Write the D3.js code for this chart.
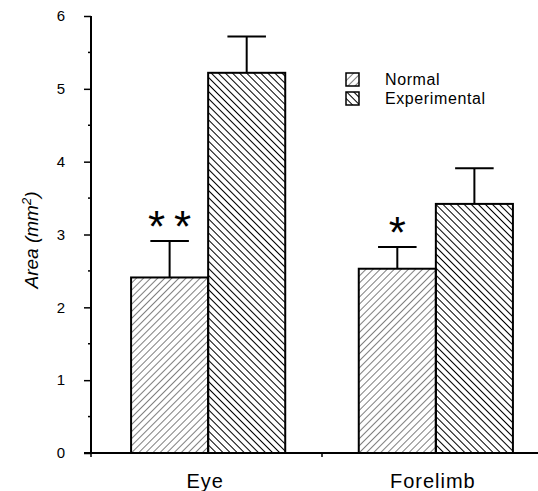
<!DOCTYPE html>
<meta charset="utf-8">
<style>
body { margin: 0; background: #fff; }
text { font-family: "Liberation Sans", Arial, sans-serif; fill: #000; }
</style>
<svg width="538" height="491"></svg>
<script src="https://cdn.jsdelivr.net/npm/d3@7"></script>
<script>

var groups = ["Eye", "Forelimb"];
var series = ["Normal", "Experimental"];
var normalMean = [2.41, 2.53];
var normalErr = [0.50, 0.30];
var experimentalMean = [5.22, 3.42];
var experimentalErr = [0.50, 0.49];
var stars = ["**", "*"];
var yTicks = [0, 1, 2, 3, 4, 5, 6];

var svg = d3.select("svg");

var x = d3.scaleBand().domain(groups).range([91, 553]).paddingInner(0.323).paddingOuter(0.176);
var xs = d3.scaleBand().domain(series).range([0, x.bandwidth()]);
var y = d3.scaleLinear().domain([0, 6]).range([453, 16]);

// hatch patterns
var defs = svg.append("defs");
defs.append("pattern")
    .attr("id", "hatchN")
    .attr("patternUnits", "userSpaceOnUse")
    .attr("width", 5).attr("height", 5)
    .attr("patternTransform", "rotate(45)")
  .append("line")
    .attr("x1", 0).attr("y1", 0).attr("x2", 0).attr("y2", 5)
    .attr("stroke", "#000").attr("stroke-width", 1);
defs.append("pattern")
    .attr("id", "hatchE")
    .attr("patternUnits", "userSpaceOnUse")
    .attr("width", 5).attr("height", 5)
    .attr("patternTransform", "rotate(-45)")
  .append("line")
    .attr("x1", 0).attr("y1", 0).attr("x2", 0).attr("y2", 5)
    .attr("stroke", "#000").attr("stroke-width", 2);

var fills = {Normal: "url(#hatchN)", Experimental: "url(#hatchE)"};

var data = [];
groups.forEach(function(g, i) {
  data.push({group: g, s: "Normal", v: normalMean[i], e: normalErr[i]});
  data.push({group: g, s: "Experimental", v: experimentalMean[i], e: experimentalErr[i]});
});

// y axis
var yAxis = d3.axisLeft(y).tickValues(yTicks).tickFormat(d3.format("d")).tickSize(7).tickPadding(19);
var yg = svg.append("g").attr("transform", "translate(91,0)").call(yAxis);
yg.select(".domain").attr("stroke-width", 2).attr("d", "M0," + y(6) + "V" + y(0));
yg.selectAll(".tick line").attr("stroke-width", 1.5);
yg.selectAll(".tick text").style("font-size", "15px").attr("font-family", "Liberation Sans, Arial, sans-serif");
yg.selectAll(".minor").data(d3.range(0.5, 6, 1)).enter().append("line")
    .attr("class", "minor")
    .attr("x1", -3).attr("x2", 0)
    .attr("y1", function(d) { return y(d); }).attr("y2", function(d) { return y(d); })
    .attr("stroke", "#000").attr("stroke-width", 1.5);

// bars
var bars = svg.append("g").selectAll("g").data(data).enter().append("g")
    .attr("transform", function(d) { return "translate(" + (x(d.group) + xs(d.s)) + ",0)"; });

bars.append("line")
    .attr("x1", xs.bandwidth() / 2).attr("x2", xs.bandwidth() / 2)
    .attr("y1", function(d) { return y(d.v); })
    .attr("y2", function(d) { return y(d.v + d.e); })
    .attr("stroke", "#000").attr("stroke-width", 2);
bars.append("line")
    .attr("x1", xs.bandwidth() / 4).attr("x2", xs.bandwidth() * 3 / 4)
    .attr("y1", function(d) { return y(d.v + d.e); })
    .attr("y2", function(d) { return y(d.v + d.e); })
    .attr("stroke", "#000").attr("stroke-width", 2);
bars.append("rect")
    .attr("x", 0).attr("width", xs.bandwidth())
    .attr("y", function(d) { return y(d.v); })
    .attr("height", function(d) { return y(0) - y(d.v); })
    .attr("fill", function(d) { return fills[d.s]; })
    .attr("stroke", "#000").attr("stroke-width", 2);

// significance stars, one text per asterisk
var starData = [];
groups.forEach(function(g, i) {
  var n = stars[i].length;
  for (var k = 0; k < n; k++) {
    starData.push({cx: x(g) + xs("Normal") + xs.bandwidth() / 2 + (k - (n - 1) / 2) * 26,
                   top: y(normalMean[i] + normalErr[i]), ch: stars[i][k]});
  }
});
svg.append("g").selectAll("text").data(starData).enter().append("text")
    .attr("x", function(d) { return d.cx; })
    .attr("y", function(d) { return d.top + 1; })
    .attr("text-anchor", "middle")
    .style("font-size", "44px")
    .text(function(d) { return d.ch; });

// x axis
var xg = svg.append("g");
xg.append("line").attr("x1", 84).attr("x2", 538).attr("y1", y(0)).attr("y2", y(0))
    .attr("stroke", "#000").attr("stroke-width", 2);
xg.selectAll(".xt").data([91, (x("Eye") + x.bandwidth() + x("Forelimb")) / 2]).enter().append("line")
    .attr("x1", function(d) { return d; }).attr("x2", function(d) { return d; })
    .attr("y1", y(0)).attr("y2", y(0) + 4)
    .attr("stroke", "#000").attr("stroke-width", 1.5);
xg.selectAll("text").data(groups).enter().append("text")
    .attr("x", function(d) { return x(d) + x.bandwidth() / 2 - 3; })
    .attr("y", 488)
    .attr("text-anchor", "middle")
    .style("font-size", "20px")
    .style("letter-spacing", "1px")
    .text(function(d) { return d; });

// y title
var yt = svg.append("text")
    .attr("transform", "translate(38,240) rotate(-90)")
    .attr("text-anchor", "middle")
    .style("font-size", "19px")
    .style("font-style", "italic");
yt.append("tspan").text("Area (mm");
yt.append("tspan").attr("dy", -7).style("font-size", "13px").text("2");
yt.append("tspan").attr("dy", 7).text(")");

// legend
var leg = svg.append("g").selectAll("g").data(series).enter().append("g")
    .attr("transform", function(d, i) { return "translate(346," + (73 + i * 19) + ")"; });
leg.append("rect").attr("width", 13).attr("height", 13)
    .attr("fill", function(d) { return fills[d]; })
    .attr("stroke", "#000").attr("stroke-width", 1.5);
leg.append("text").attr("x", 39).attr("y", 12)
    .style("font-size", "16px")
    .style("letter-spacing", "0.6px")
    .text(function(d) { return d; });

</script>
